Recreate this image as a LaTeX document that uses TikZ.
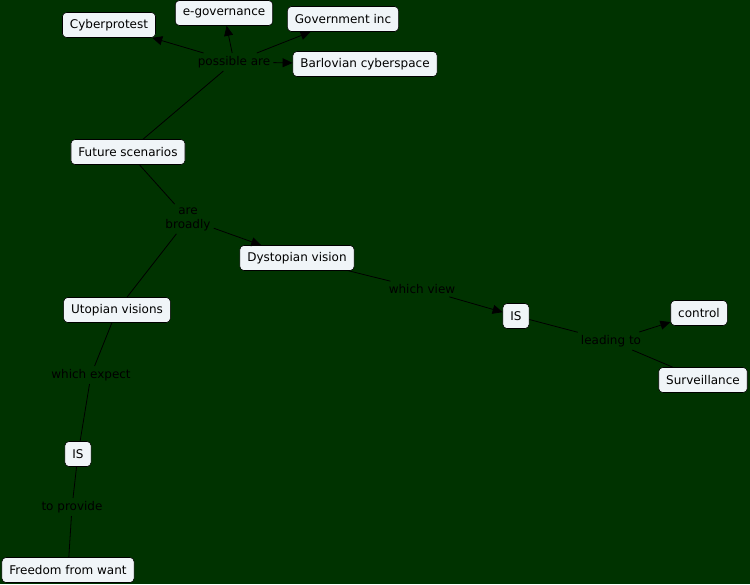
\documentclass[tikz,border=0pt]{standalone}
\usepackage{fontspec}
\setmainfont{DejaVu Sans}
\usetikzlibrary{arrows.meta}
\definecolor{bgc}{RGB}{0,51,0}
\definecolor{boxfill}{RGB}{240,245,248}
\begin{document}
\begin{tikzpicture}[x=1pt,y=-1pt,
  concept/.style={draw=black, line width=0.6pt, fill=boxfill, rounded corners=4pt,
    font=\fontsize{12}{14}\selectfont, inner xsep=7.5pt, inner ysep=0pt, minimum height=25pt},
  linklabel/.style={font=\fontsize{12}{14}\selectfont, text=black, inner sep=3pt, align=center},
  conn/.style={draw=black, line width=0.8pt},
  arr/.style={conn, -{Triangle[length=10pt,width=9pt]}}]
\fill[bgc] (0,0) rectangle (750,584);
\useasboundingbox (0,0) rectangle (750,584);

\node[concept] (cyber) at (109,25) {Cyberprotest};
\node[concept] (egov) at (224,13) {e-governance};
\node[concept] (govinc) at (343,19) {Government inc};
\node[concept] (barl) at (365,64) {Barlovian cyberspace};
\node[concept] (fs) at (128,152) {Future scenarios};
\node[concept] (dys) at (297,258) {Dystopian vision};
\node[concept] (is1) at (516,316) {IS};
\node[concept] (ctrl) at (699,313) {control};
\node[concept] (surv) at (703,380) {Surveillance};
\node[concept] (uto) at (117,310) {Utopian visions};
\node[concept] (is2) at (78,454) {IS};
\node[concept] (free) at (68,570) {Freedom from want};

\node[linklabel] (pa) at (234,62) {possible are};
\node[linklabel] (ab) at (188,219) {are\\broadly};
\node[linklabel] (wv) at (422,289) {which view};
\node[linklabel] (lt) at (611,341) {leading to};
\node[linklabel] (we) at (91,375) {which expect};
\node[linklabel] (tp) at (72,507) {to provide};

\draw[conn] (fs) -- (pa);
\draw[arr] (pa) -- (cyber);
\draw[arr] (pa) -- (egov);
\draw[arr] (pa) -- (govinc);
\draw[arr] (pa) -- (barl);
\draw[conn] (fs) -- (ab);
\draw[arr] (ab) -- (dys);
\draw[conn] (ab) -- (uto);
\draw[conn] (dys) -- (wv);
\draw[arr] (wv) -- (is1);
\draw[conn] (is1) -- (lt);
\draw[arr] (lt) -- (ctrl);
\draw[conn] (lt) -- (surv);
\draw[conn] (uto) -- (we);
\draw[conn] (we) -- (is2);
\draw[conn] (is2) -- (tp);
\draw[conn] (tp) -- (free);
\end{tikzpicture}
\end{document}
